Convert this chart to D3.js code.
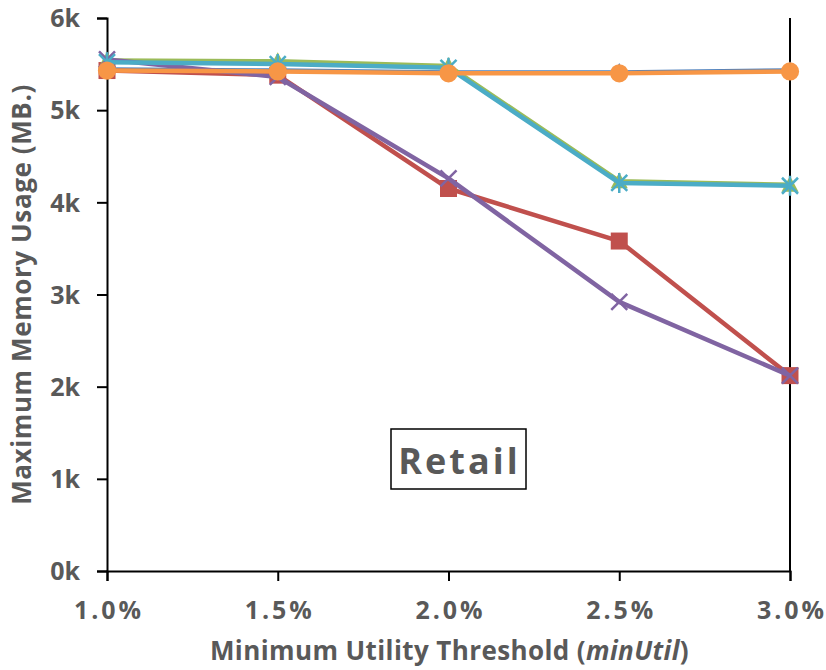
<!DOCTYPE html>
<html>
<head>
<meta charset="utf-8">
<script src="https://cdn.jsdelivr.net/npm/d3@7/dist/d3.min.js"></script>
<style>
  html, body { margin: 0; padding: 0; background: #fff; }
  svg { display: block; }
  text { font-family: "Open Sans", "DejaVu Sans", sans-serif; font-weight: bold; fill: #595959; }
</style>
</head>
<body>
<svg id="chart" width="826" height="670"></svg>
<script>
// Minimum utility thresholds (x categories)
const thresholds = ["1.0%", "1.5%", "2.0%", "2.5%", "3.0%"];
// Y axis ticks, in thousands of MB
const yTicks = [0, 1, 2, 3, 4, 5, 6];
const yTickLabels = ["0k", "1k", "2k", "3k", "4k", "5k", "6k"];

// Peak memory (thousands of MB) per algorithm
const seriesBlue   = [5.44, 5.43, 5.41, 5.41, 5.43];
const seriesRed    = [5.43, 5.38, 4.15, 3.58, 2.12];
const seriesGreen  = [5.54, 5.53, 5.48, 4.23, 4.19];
const seriesPurple = [5.55, 5.36, 4.26, 2.92, 2.12];
const seriesCyan   = [5.52, 5.50, 5.46, 4.21, 4.18];
const seriesOrange = [5.43, 5.42, 5.40, 5.40, 5.42];

const datasetLabel = "Retail";

const series = [
  { values: seriesBlue,   color: "#4F81BD", marker: "diamond" },
  { values: seriesRed,    color: "#C0504D", marker: "square" },
  { values: seriesGreen,  color: "#9BBB59", marker: "triangle" },
  { values: seriesPurple, color: "#8064A2", marker: "x" },
  { values: seriesCyan,   color: "#4BACC6", marker: "star" },
  { values: seriesOrange, color: "#F79646", marker: "circle" }
];

const svg = d3.select("#chart");
const plotLeft = 107, plotRight = 790, plotTop = 18, plotBottom = 571;

const x = d3.scalePoint().domain(thresholds).range([plotLeft, plotRight]);
const y = d3.scaleLinear().domain([0, 6]).range([plotBottom, plotTop]);

// Right frame line
svg.append("line")
  .attr("x1", plotRight).attr("x2", plotRight).attr("y1", plotTop).attr("y2", plotBottom)
  .attr("stroke", "#000").attr("stroke-width", 2);

// Y axis
const yAxis = svg.append("g").attr("transform", `translate(${plotLeft},0)`)
  .call(d3.axisLeft(y).tickValues(yTicks).tickFormat((d, i) => yTickLabels[i]).tickSize(10).tickPadding(17));
yAxis.select(".domain").attr("stroke", "#000").attr("stroke-width", 2);
yAxis.selectAll(".tick line").attr("stroke", "#000").attr("stroke-width", 2);
yAxis.selectAll(".tick text").attr("font-size", 25).attr("fill", "#595959")
  .attr("font-family", null).attr("dy", "0.35em");

// X axis
const xAxis = svg.append("g").attr("transform", `translate(0,${plotBottom})`)
  .call(d3.axisBottom(x).tickSize(10).tickPadding(20));
xAxis.select(".domain").attr("stroke", "#000").attr("stroke-width", 2);
xAxis.selectAll(".tick line").attr("stroke", "#000").attr("stroke-width", 2);
xAxis.selectAll(".tick text").attr("font-size", 25).attr("fill", "#595959")
  .attr("font-family", null).attr("letter-spacing", "3px").attr("dx", "1.5px");

// Axis titles
svg.append("text")
  .attr("x", (plotLeft + plotRight) / 2 + 1).attr("y", 660)
  .attr("text-anchor", "middle").attr("font-size", 26).attr("letter-spacing", "0.4px")
  .call(t => {
    t.append("tspan").text("Minimum Utility Threshold (");
    t.append("tspan").attr("font-style", "italic").text("minUtil");
    t.append("tspan").text(")");
  });

svg.append("text")
  .attr("transform", `translate(31,${(plotTop + plotBottom) / 2}) rotate(-90)`)
  .attr("text-anchor", "middle").attr("font-size", 26).attr("letter-spacing", "0.6px")
  .text("Maximum Memory Usage (MB.)");

// Lines and markers
const line = d3.line().x((d, i) => x(thresholds[i])).y(d => y(d));

const markerPath = {
  diamond: d3.symbol(d3.symbolDiamond, 100)(),
  square: "M-8.5,-8.5H8.5V8.5H-8.5Z",
  triangle: "M0,-9L8.5,7H-8.5Z",
  circle: d3.symbol(d3.symbolCircle, 260)(),
  x: "M-8,-8L8,8M-8,8L8,-8",
  star: "M-8,-8L8,8M-8,8L8,-8M0,-10V10"
};

series.forEach(s => {
  const g = svg.append("g");
  g.append("path").datum(s.values)
    .attr("d", line).attr("fill", "none")
    .attr("stroke", s.color).attr("stroke-width", 4.5)
    .attr("stroke-linejoin", "round");
  const stroked = s.marker === "x" || s.marker === "star";
  g.selectAll("path.m").data(s.values).join("path")
    .attr("class", "m")
    .attr("transform", (d, i) => `translate(${x(thresholds[i])},${y(d)})`)
    .attr("d", markerPath[s.marker])
    .attr("fill", stroked ? "none" : s.color)
    .attr("stroke", s.color)
    .attr("stroke-width", stroked ? 2.5 : 0);
});

// Dataset label box
const bx = 391, by = 429, bw = 135, bh = 60;
svg.append("rect").attr("x", bx).attr("y", by).attr("width", bw).attr("height", bh)
  .attr("fill", "#fff").attr("stroke", "#000").attr("stroke-width", 1.5);
svg.append("text")
  .attr("x", bx + bw / 2 + 1).attr("y", by + 45)
  .attr("text-anchor", "middle").attr("font-size", 36).attr("letter-spacing", "3px")
  .text(datasetLabel);
</script>
</body>
</html>
